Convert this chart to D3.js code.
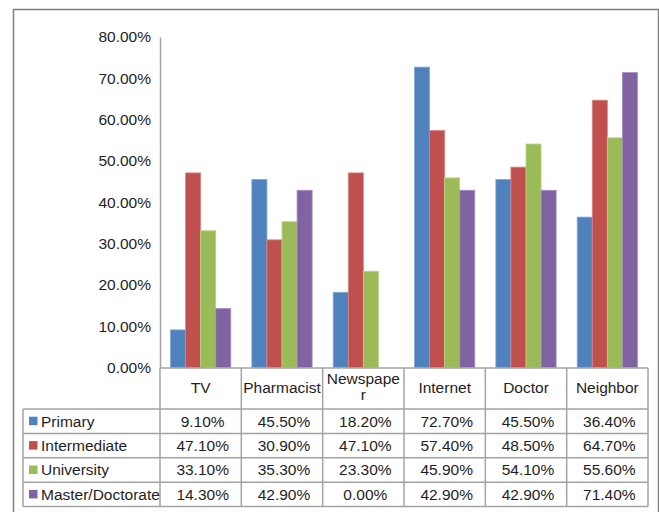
<!DOCTYPE html>
<html>
<head>
<meta charset="utf-8">
<script src="https://cdn.jsdelivr.net/npm/d3@7/dist/d3.min.js"></script>
<style>
  html, body { margin: 0; padding: 0; background: #fff; }
  svg { display: block; font-family: "Liberation Sans", Arial, sans-serif; }
</style>
</head>
<body>
<svg id="chart" width="659" height="512"></svg>
<script>
const categories = ["TV", "Pharmacist", "Newspaper", "Internet", "Doctor", "Neighbor"];
const categoryLines = [["TV"], ["Pharmacist"], ["Newspape", "r"], ["Internet"], ["Doctor"], ["Neighbor"]];
const seriesNames = ["Primary", "Intermediate", "University", "Master/Doctorate"];
const primary = [9.1, 45.5, 18.2, 72.7, 45.5, 36.4];
const intermediate = [47.1, 30.9, 47.1, 57.4, 48.5, 64.7];
const university = [33.1, 35.3, 23.3, 45.9, 54.1, 55.6];
const masterDoctorate = [14.3, 42.9, 0.0, 42.9, 42.9, 71.4];
const yTicks = [0, 10, 20, 30, 40, 50, 60, 70, 80];
const colors = ["#4F81BD", "#C0504D", "#9BBB59", "#8064A2"];
const strokes = ["#7ea6d6", "#d88683", "#bcd48a", "#a78fc4"];

const seriesValues = [primary, intermediate, university, masterDoctorate];

const svg = d3.select("#chart");
const fontSize = 15.5;
const textColor = "#1e1e1e";
const lineColor = "#a3a3a3";

// outer frame
svg.append("rect").attr("x", 13.5).attr("y", 9.5).attr("width", 645).attr("height", 520)
  .attr("fill", "none").attr("stroke", "#7f7f7f").attr("stroke-width", 1.5);

const plotLeft = 160, plotRight = 648, plotTop = 37, plotBottom = 367.5;
const x = d3.scaleBand().domain(categories).range([plotLeft, plotRight]).paddingInner(0).paddingOuter(0);
const x1 = d3.scaleBand().domain(seriesNames).range([0, x.bandwidth()]).paddingOuter(0.7).paddingInner(0);
const y = d3.scaleLinear().domain([0, 80]).range([plotBottom, plotTop]);

// bars
seriesNames.forEach((s, si) => {
  svg.append("g").selectAll("rect")
    .data(categories.map((c, ci) => ({ c, v: seriesValues[si][ci] })))
    .join("rect")
    .attr("x", d => x(d.c) + x1(s))
    .attr("y", d => y(d.v))
    .attr("width", x1.bandwidth())
    .attr("height", d => Math.max(0, y(0) - y(d.v)))
    .attr("fill", colors[si])
    .attr("stroke", d => d.v > 0 ? strokes[si] : "none")
    .attr("stroke-width", 0.8);
});

// y axis
const yAxis = d3.axisLeft(y).tickValues(yTicks).tickSize(0).tickPadding(9)
  .tickFormat(d => d.toFixed(2) + "%");
const gy = svg.append("g").attr("transform", `translate(${plotLeft},0)`).call(yAxis);
gy.select(".domain").attr("stroke", lineColor).attr("stroke-width", 1.5);
gy.selectAll("text").attr("font-size", fontSize).attr("fill", textColor)
  .attr("font-family", "Liberation Sans, Arial, sans-serif");

// data table
const tableTop = 368, headerBottom = 409, rowH = 24.4, legendLeft = 23;
const rowsBottom = headerBottom + rowH * 4;
const g = svg.append("g");
const ln = (x1_, y1_, x2_, y2_) => g.append("line").attr("x1", x1_).attr("y1", y1_).attr("x2", x2_).attr("y2", y2_)
  .attr("stroke", lineColor).attr("stroke-width", 1.5);

// horizontal lines
ln(plotLeft, tableTop, plotRight, tableTop);
for (let i = 0; i <= 4; i++) ln(legendLeft, headerBottom + rowH * i, plotRight, headerBottom + rowH * i);
// vertical lines
ln(legendLeft, headerBottom, legendLeft, rowsBottom);
const colEdges = categories.map(c => x(c)).concat([plotRight]);
colEdges.forEach(cx => ln(cx, tableTop, cx, rowsBottom));

// header labels
categories.forEach((c, ci) => {
  const lines = categoryLines[ci];
  const cy = lines.length > 1 ? 386.5 : 387.5;
  const lh = 16;
  lines.forEach((t, li) => {
    g.append("text").attr("x", x(c) + x.bandwidth() / 2)
      .attr("y", cy + (li - (lines.length - 1) / 2) * lh)
      .attr("dy", "0.35em").attr("text-anchor", "middle")
      .attr("font-size", fontSize).attr("fill", textColor).text(t);
  });
});

// rows
seriesNames.forEach((s, si) => {
  const cy = headerBottom + rowH * si + rowH / 2;
  g.append("rect").attr("x", 29).attr("y", cy - 4.5).attr("width", 8.5).attr("height", 8.5).attr("fill", colors[si]);
  g.append("text").attr("x", 41).attr("y", cy).attr("dy", "0.35em")
    .attr("font-size", fontSize).attr("fill", textColor).text(s);
  categories.forEach((c, ci) => {
    g.append("text").attr("x", x(c) + x.bandwidth() / 2 + 2).attr("y", cy).attr("dy", "0.35em")
      .attr("text-anchor", "middle").attr("font-size", fontSize).attr("fill", textColor)
      .text(seriesValues[si][ci].toFixed(2) + "%");
  });
});
</script>
</body>
</html>
